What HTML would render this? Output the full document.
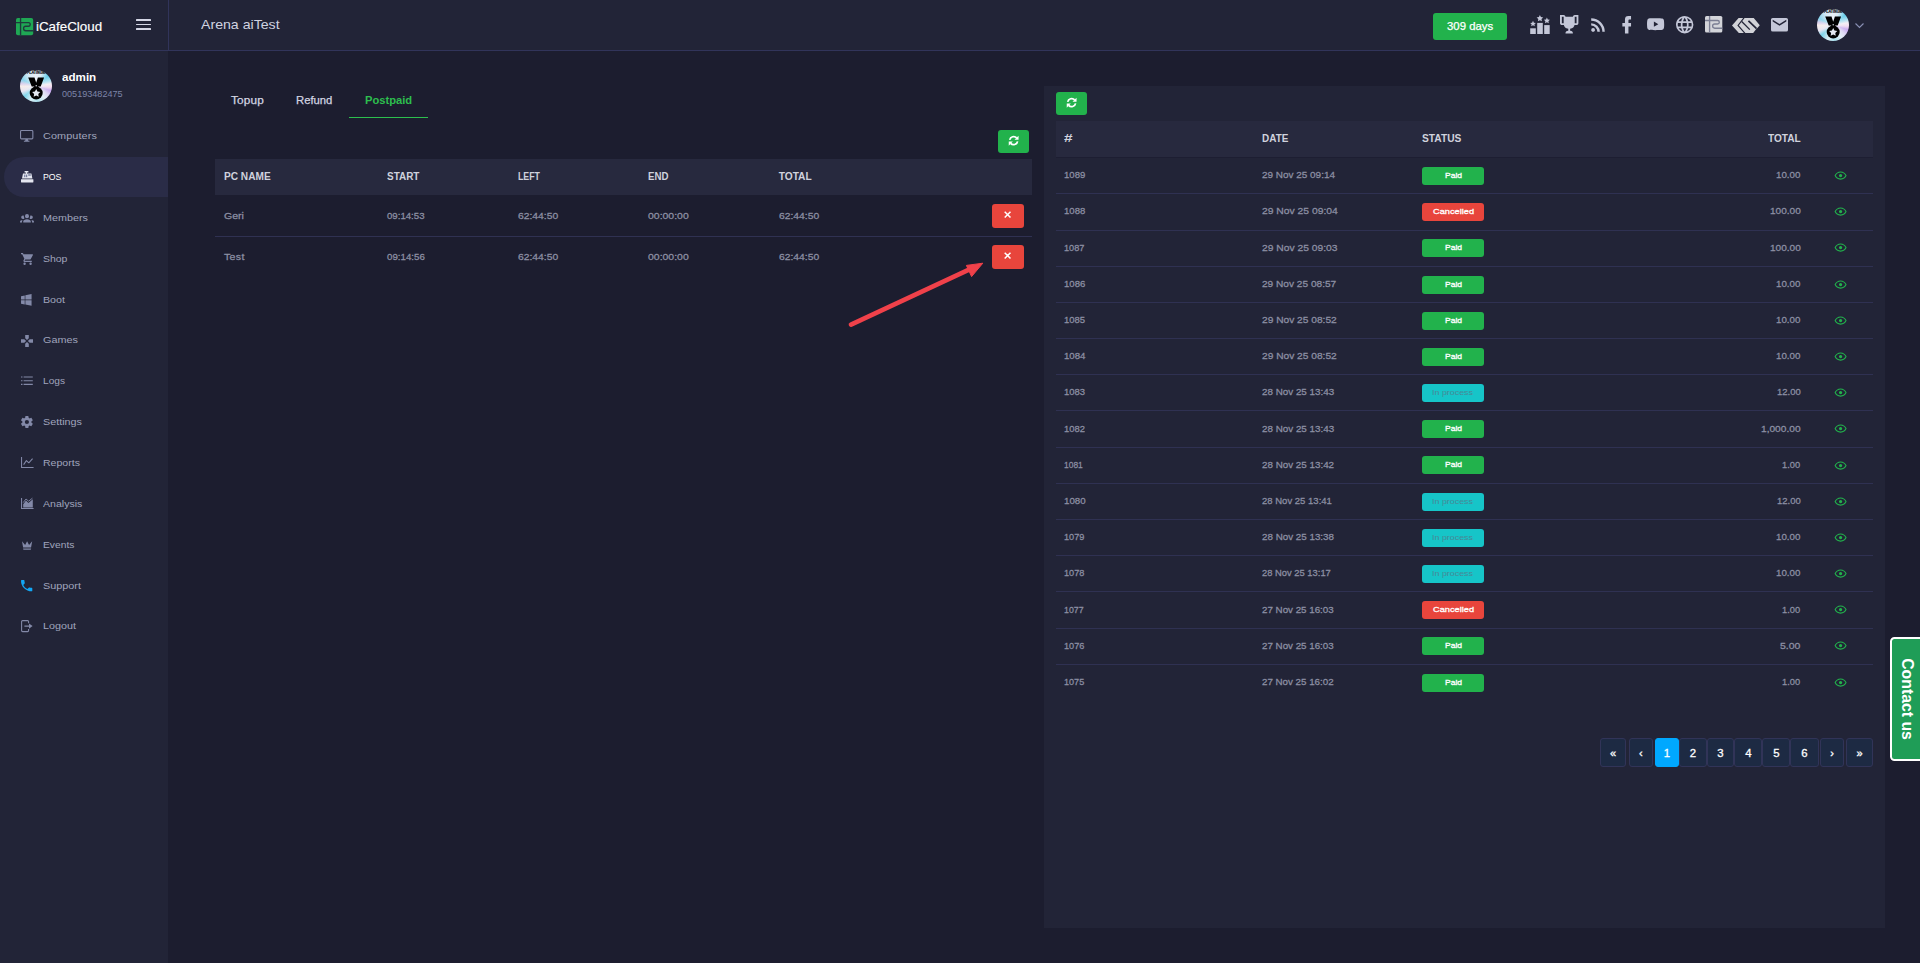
<!DOCTYPE html>
<html lang="en"><head><meta charset="utf-8"><title>iCafeCloud</title>
<style>
html,body{margin:0;padding:0;}
body{width:1920px;height:963px;overflow:hidden;background:#1c1d2f;font-family:"Liberation Sans",sans-serif;position:relative;}
.t{position:absolute;white-space:nowrap;display:block;}
.i{position:absolute;display:block;overflow:visible;}
.b{position:absolute;display:block;box-sizing:border-box;}
header,aside,nav,main,section{display:block;position:static;margin:0;padding:0;}

</style></head>
<body>
<div class="b" style="left:0px;top:0px;width:168px;height:963px;background:#222437;"></div>
<div class="b" style="left:0px;top:0px;width:1920px;height:50px;background:#222437;"></div>
<div class="b" style="left:0px;top:50px;width:1920px;height:1px;background:#31345a;"></div>
<div class="b" style="left:168px;top:0px;width:1px;height:50px;background:#31345a;"></div>
<div class="b" style="left:1044px;top:86px;width:840.8px;height:842px;background:#222437;"></div>
<div class="b" style="left:4px;top:157px;width:164px;height:40px;background:#2a2c47;border-radius:20px 0 0 20px;"></div>
<header>
<svg class="i" style="left:16.00px;top:17.80px;" preserveAspectRatio="none" width="17.2" height="17.2" viewBox="200 165 640 610"><rect x="200" y="165" width="640" height="610" rx="70" fill="#1fa754"/><path d="M370 165 V775 M200 330 H665 a65 65 0 0 1 0 130 H560 a78 78 0 0 0 0 156 H840" fill="none" stroke="#1f3a3c" stroke-width="50"/></svg>
<span class="t" style="top:16.90px;font-size:13.2px;line-height:20px;color:#ffffff;left:35.60px;transform:scaleX(1.0137);transform-origin:left center;-webkit-text-stroke:0.15px #fff;">iCafeCloud</span>
<div class="b" style="left:136.2px;top:19.4px;width:14.8px;height:1.75px;background:#d5d7e6;border-radius:0.5px;"></div>
<div class="b" style="left:136.2px;top:23.7px;width:14.8px;height:1.75px;background:#d5d7e6;border-radius:0.5px;"></div>
<div class="b" style="left:136.2px;top:27.9px;width:14.8px;height:1.75px;background:#d5d7e6;border-radius:0.5px;"></div>
<span class="t" style="top:14.75px;font-size:13px;line-height:20px;color:#d0d3e0;left:201.20px;transform:scaleX(1.0877);transform-origin:left center;">Arena aiTest</span>
<div class="b" style="left:1433px;top:13px;width:74px;height:27px;background:#22b24c;border-radius:3px;"></div>
<span class="t" style="top:17.90px;font-size:10.6px;line-height:16px;color:#ffffff;letter-spacing:0.022px;left:1446.90px;transform:scaleX(1.0700);transform-origin:left center;-webkit-text-stroke:0.25px #fff;">309 days</span>
<svg class="i" style="left:1530.00px;top:15.00px;fill:#c4c7d8;" width="20" height="19" viewBox="0 0 20 19"><rect x="0.2" y="13.3" width="5.6" height="5.7"/><rect x="7.2" y="7.9" width="5.6" height="11.1"/><rect x="14.2" y="10.1" width="5.5" height="8.9"/><path d="M3 5.8l.9 1.9 2 .2-1.5 1.4.4 2L3 10.3l-1.8 1 .4-2L.1 7.9l2-.2z"/><path d="M9.9 0l1 2.1 2.3.3-1.7 1.6.4 2.3-2-1.1-2 1.1.4-2.3L6.6 2.4l2.3-.3z"/><path d="M16.9 2.6l.9 1.9 2.1.3-1.5 1.4.4 2.1-1.9-1-1.9 1 .4-2.1-1.5-1.4 2.1-.3z"/></svg>
<svg class="i" style="left:1559.80px;top:15.40px;fill:#c4c7d8;" width="18.4" height="18.4" viewBox="2 2 20 20"><path d="M20.2,2H19.5H18C17.1,2 16,3 16,4H8C8,3 6.9,2 6,2H4.5H3.8H2V11C2,12 3,13 4,13H6.2C6.6,15 7.9,16.7 11,17V19.1C8.8,19.3 8,20.4 8,21.7V22H16V21.7C16,20.4 15.2,19.3 13,19.1V17C16.1,16.7 17.4,15 17.8,13H20C21,13 22,12 22,11V2H20.2M4,11V4H6V6V11C5.1,11 4.3,11 4,11M20,11C19.7,11 18.9,11 18,11V6V4H20V11Z"/></svg>
<svg class="i" style="left:1590.50px;top:18.00px;fill:#c4c7d8;" width="14.2" height="13.8" viewBox="4 4.2 15.8 15.8"><path d="M6.18,15.64A2.18,2.18 0 0,1 8.36,17.82C8.36,19 7.38,20 6.18,20C5,20 4,19 4,17.82A2.18,2.18 0 0,1 6.18,15.64M4,4.44A15.56,15.56 0 0,1 19.56,20H16.73A12.73,12.73 0 0,0 4,7.27V4.44M4,10.1A9.9,9.9 0 0,1 13.9,20H11.07A7.07,7.07 0 0,0 4,12.93V10.1Z"/></svg>
<svg class="i" style="left:1622.00px;top:15.70px;fill:#c4c7d8;" width="9.4" height="17.4" viewBox="7 2 10 20"><path d="M17,2V2H17V6H15C14.31,6 14,6.81 14,7.5V10H14L17,10V14H14V22H10V14H7V10H10V6A4,4 0 0,1 14,2H17Z"/></svg>
<svg class="i" style="left:1647.00px;top:18.20px;fill:#c4c7d8;" width="17.2" height="12.3" viewBox="2 5 20 14"><path d="M10,15L15.19,12L10,9V15M21.56,7.17C21.69,7.64 21.78,8.27 21.84,9.07C21.91,9.87 21.94,10.56 21.94,11.16L22,12C22,14.19 21.84,15.8 21.56,16.83C21.31,17.73 20.73,18.31 19.83,18.56C19.36,18.69 18.5,18.78 17.18,18.84C15.88,18.91 14.69,18.94 13.59,18.94L12,19C7.81,19 5.2,18.84 4.17,18.56C3.27,18.31 2.69,17.73 2.44,16.83C2.31,16.36 2.22,15.73 2.16,14.93C2.09,14.13 2.06,13.44 2.06,12.84L2,12C2,9.81 2.16,8.2 2.44,7.17C2.69,6.27 3.27,5.69 4.17,5.44C4.64,5.31 5.5,5.22 6.82,5.16C8.12,5.09 9.31,5.06 10.41,5.06L12,5C16.19,5 18.8,5.16 19.83,5.44C20.73,5.69 21.31,6.27 21.56,7.17Z"/></svg>
<svg class="i" style="left:1675.80px;top:15.80px;fill:#c4c7d8;" width="17.4" height="17.4" viewBox="2 2 20 20"><path d="M16.36,14C16.44,13.34 16.5,12.68 16.5,12C16.5,11.32 16.44,10.66 16.36,10H19.74C19.9,10.64 20,11.31 20,12C20,12.69 19.9,13.36 19.74,14M14.59,19.56C15.19,18.45 15.65,17.25 15.97,16H18.92C17.96,17.65 16.43,18.93 14.59,19.56M14.34,14H9.66C9.56,13.34 9.5,12.68 9.5,12C9.5,11.32 9.56,10.65 9.66,10H14.34C14.43,10.65 14.5,11.32 14.5,12C14.5,12.68 14.43,13.34 14.34,14M12,19.96C11.17,18.76 10.5,17.43 10.09,16H13.91C13.5,17.43 12.83,18.76 12,19.96M8,8H5.08C6.03,6.34 7.57,5.06 9.4,4.44C8.8,5.55 8.35,6.75 8,8M5.08,16H8C8.35,17.25 8.8,18.45 9.4,19.56C7.57,18.93 6.03,17.65 5.08,16M4.26,14C4.1,13.36 4,12.69 4,12C4,11.31 4.1,10.64 4.26,10H7.64C7.56,10.66 7.5,11.32 7.5,12C7.5,12.68 7.56,13.34 7.64,14M12,4.03C12.83,5.23 13.5,6.57 13.91,8H10.09C10.5,6.57 11.17,5.23 12,4.03M18.92,8H15.97C15.65,6.75 15.19,5.55 14.59,4.44C16.43,5.07 17.96,6.34 18.92,8M12,2C6.47,2 2,6.5 2,12A10,10 0 0,0 12,22A10,10 0 0,0 22,12A10,10 0 0,0 12,2Z"/></svg>
<svg class="i" style="left:1705.40px;top:16.45px;" preserveAspectRatio="none" width="17.3" height="16.5" viewBox="200 165 640 610"><rect x="200" y="165" width="640" height="610" rx="60" fill="#d3d4d9"/><path d="M370 165 V775 M200 330 H665 a65 65 0 0 1 0 130 H560 a78 78 0 0 0 0 156 H840" fill="none" stroke="#7b7e93" stroke-width="50"/></svg>
<svg class="i" style="left:1732.07px;top:17.80px;" preserveAspectRatio="none" width="27.8" height="15.1" viewBox="225 215 1030 560"><path d="M225 490 L470 215 H1030 L1255 480 L1150 600 L1110 640 L1010 775 H480 Z" fill="#d2d3d8"/><g fill="none" stroke="#222437"><path d="M690 180 L450 490 L730 810" stroke-width="42"/><path d="M585 345 L885 645" stroke-width="48"/><path d="M835 320 L1135 610" stroke-width="62"/></g></svg>
<svg class="i" style="left:1771.00px;top:17.50px;fill:#c4c7d8;" width="17" height="13.6" viewBox="2 4 20 16"><path d="M20,8L12,13L4,8V6L12,11L20,6M20,4H4C2.89,4 2,4.89 2,6V18A2,2 0 0,0 4,20H20A2,2 0 0,0 22,18V6C22,4.89 21.1,4 20,4Z"/></svg>
<div class="b" style="left:1817px;top:9px;width:32px;height:32px;border-radius:50%;background:conic-gradient(from 0deg,#e9f0f7 0deg,#d5e9f3 25deg,#5ecbe9 50deg,#a5def0 68deg,#f7eef3 82deg,#f1d9ef 95deg,#c5a3ef 108deg,#dcd3f3 125deg,#e3edf5 145deg,#a8e0ee 175deg,#d9eef5 200deg,#74d3ea 228deg,#e7e3f1 248deg,#f8ece9 268deg,#d9cdeb 280deg,#7fd1ea 295deg,#cfe7f3 325deg,#e9f0f7 360deg);overflow:hidden;"></div><svg class="i" style="left:1817.00px;top:9.00px;" width="32" height="32" viewBox="0 0 64 64"><defs><clipPath id="ca"><circle cx="32" cy="32" r="32"/></clipPath><radialGradient id="ga" cx="0.5" cy="0.5" r="0.5"><stop offset="0" stop-color="#eef2f8" stop-opacity="0.9"/><stop offset="0.55" stop-color="#eef2f8" stop-opacity="0.35"/><stop offset="1" stop-color="#eef2f8" stop-opacity="0"/></radialGradient></defs><g clip-path="url(#ca)"><circle cx="32" cy="32" r="32" fill="url(#ga)"/><path d="M16.4 15.2 H29 L32.4 25.5 L35.8 15.2 H48.2 L41.4 33 H23.4 Z" fill="#000"/><rect x="28.4" y="32" width="8" height="4" fill="#000"/><circle cx="32.4" cy="46" r="13" fill="#000"/><circle cx="32.4" cy="31.6" r="1.4" fill="#dfe6f0"/><path d="M32.4 37.8l2.5 5.2 5.7.8-4.1 4 1 5.7-5.1-2.7-5.1 2.7 1-5.7-4.1-4 5.7-.8z" fill="#e3e7f0"/><text x="32.2" y="8.6" font-family="Liberation Sans" font-weight="700" font-size="9.5" text-anchor="middle" fill="#101116" stroke="#101116" stroke-width="0.4" textLength="37" lengthAdjust="spacingAndGlyphs">PLATINUM</text></g></svg>
<svg class="i" style="left:1855.00px;top:22.60px;" width="9" height="5.2" viewBox="0 0 9 5.2"><path d="M0.5 0.5 L4.5 4.5 L8.5 0.5" fill="none" stroke="#8a90b4" stroke-width="1.1"/></svg>
</header>
<aside><nav>
<div class="b" style="left:20px;top:70px;width:32px;height:32px;border-radius:50%;background:conic-gradient(from 0deg,#e9f0f7 0deg,#d5e9f3 25deg,#5ecbe9 50deg,#a5def0 68deg,#f7eef3 82deg,#f1d9ef 95deg,#c5a3ef 108deg,#dcd3f3 125deg,#e3edf5 145deg,#a8e0ee 175deg,#d9eef5 200deg,#74d3ea 228deg,#e7e3f1 248deg,#f8ece9 268deg,#d9cdeb 280deg,#7fd1ea 295deg,#cfe7f3 325deg,#e9f0f7 360deg);overflow:hidden;"></div><svg class="i" style="left:20.00px;top:70.00px;" width="32" height="32" viewBox="0 0 64 64"><defs><clipPath id="cb"><circle cx="32" cy="32" r="32"/></clipPath><radialGradient id="gb" cx="0.5" cy="0.5" r="0.5"><stop offset="0" stop-color="#eef2f8" stop-opacity="0.9"/><stop offset="0.55" stop-color="#eef2f8" stop-opacity="0.35"/><stop offset="1" stop-color="#eef2f8" stop-opacity="0"/></radialGradient></defs><g clip-path="url(#cb)"><circle cx="32" cy="32" r="32" fill="url(#gb)"/><path d="M16.4 15.2 H29 L32.4 25.5 L35.8 15.2 H48.2 L41.4 33 H23.4 Z" fill="#000"/><rect x="28.4" y="32" width="8" height="4" fill="#000"/><circle cx="32.4" cy="46" r="13" fill="#000"/><circle cx="32.4" cy="31.6" r="1.4" fill="#dfe6f0"/><path d="M32.4 37.8l2.5 5.2 5.7.8-4.1 4 1 5.7-5.1-2.7-5.1 2.7 1-5.7-4.1-4 5.7-.8z" fill="#e3e7f0"/><text x="32.2" y="8.6" font-family="Liberation Sans" font-weight="700" font-size="9.5" text-anchor="middle" fill="#101116" stroke="#101116" stroke-width="0.4" textLength="37" lengthAdjust="spacingAndGlyphs">PLATINUM</text></g></svg>
<span class="t" style="top:68.90px;font-size:11.5px;line-height:17px;color:#ffffff;font-weight:700;left:61.80px;transform:scaleX(1.0099);transform-origin:left center;">admin</span>
<span class="t" style="top:86.80px;font-size:9.3px;line-height:14px;color:#7d84a8;left:61.90px;transform:scaleX(0.9763);transform-origin:left center;">005193482475</span>
<span class="t" style="top:127.90px;font-size:9.9px;line-height:15px;color:#a0a4bd;letter-spacing:0.084px;left:42.50px;transform:scaleX(1.1000);transform-origin:left center;">Computers</span>
<span class="t" style="top:168.90px;font-size:9.9px;line-height:15px;color:#ffffff;left:42.50px;transform:scaleX(0.8848);transform-origin:left center;">POS</span>
<span class="t" style="top:209.90px;font-size:9.9px;line-height:15px;color:#a0a4bd;left:42.50px;transform:scaleX(1.0907);transform-origin:left center;">Members</span>
<span class="t" style="top:250.90px;font-size:9.9px;line-height:15px;color:#a0a4bd;left:42.50px;transform:scaleX(1.0596);transform-origin:left center;">Shop</span>
<span class="t" style="top:291.90px;font-size:9.9px;line-height:15px;color:#a0a4bd;left:42.50px;transform:scaleX(1.0802);transform-origin:left center;">Boot</span>
<span class="t" style="top:332.20px;font-size:9.9px;line-height:15px;color:#a0a4bd;left:42.50px;transform:scaleX(1.0968);transform-origin:left center;">Games</span>
<span class="t" style="top:373.20px;font-size:9.9px;line-height:15px;color:#a0a4bd;left:42.50px;transform:scaleX(1.0248);transform-origin:left center;">Logs</span>
<span class="t" style="top:413.90px;font-size:9.9px;line-height:15px;color:#a0a4bd;left:42.50px;transform:scaleX(1.0902);transform-origin:left center;">Settings</span>
<span class="t" style="top:454.90px;font-size:9.9px;line-height:15px;color:#a0a4bd;left:42.50px;transform:scaleX(1.0673);transform-origin:left center;">Reports</span>
<span class="t" style="top:495.90px;font-size:9.9px;line-height:15px;color:#a0a4bd;left:42.50px;transform:scaleX(1.0715);transform-origin:left center;">Analysis</span>
<span class="t" style="top:536.90px;font-size:9.9px;line-height:15px;color:#a0a4bd;left:42.50px;transform:scaleX(1.0408);transform-origin:left center;">Events</span>
<span class="t" style="top:577.90px;font-size:9.9px;line-height:15px;color:#a0a4bd;left:42.50px;transform:scaleX(1.0959);transform-origin:left center;">Support</span>
<span class="t" style="top:618.20px;font-size:9.9px;line-height:15px;color:#a0a4bd;left:42.50px;transform:scaleX(1.0898);transform-origin:left center;">Logout</span>
<svg class="i" style="left:20.30px;top:130.00px;" width="13.4" height="11.8" viewBox="0 0 13.4 11.8"><rect x="0.55" y="0.55" width="12.3" height="8.3" rx="0.9" fill="none" stroke="#8389a8" stroke-width="1.1"/><path d="M5.6 8.9 L5.1 10.7 H3.9 V11.8 H9.5 V10.7 H8.3 L7.8 8.9 Z" fill="#8389a8"/></svg>
<svg class="i" style="left:20.90px;top:170.90px;" width="12.4" height="11.4" viewBox="0 0 12.4 11.4"><path d="M3.6 0 H7.4 V1.5 H6 V2.6 H10.4 L11.4 7.6 H1 L2 2.6 H4.9 V1.5 H3.6 Z" fill="#e4e6f0"/><rect x="0" y="8.2" width="12.4" height="3.2" rx="0.4" fill="#e4e6f0"/><rect x="3.3" y="3.6" width="1" height="2.6" fill="#5c6488"/><rect x="5.2" y="3.6" width="1" height="2.6" fill="#5c6488"/><rect x="7.2" y="3.4" width="2.6" height="1.2" fill="#5c6488"/></svg>
<svg class="i" style="left:20.00px;top:214.00px;fill:#8389a8;" width="14" height="8.7" viewBox="0 5.5 24 14.5"><path d="M12,5.5A3.5,3.5 0 0,1 15.5,9A3.5,3.5 0 0,1 12,12.5A3.5,3.5 0 0,1 8.5,9A3.5,3.5 0 0,1 12,5.5M5,8C5.56,8 6.08,8.15 6.53,8.42C6.38,9.85 6.8,11.27 7.66,12.38C7.16,13.34 6.16,14 5,14A3,3 0 0,1 2,11A3,3 0 0,1 5,8M19,8A3,3 0 0,1 22,11A3,3 0 0,1 19,14C17.84,14 16.84,13.34 16.34,12.38C17.2,11.27 17.62,9.85 17.47,8.42C17.92,8.15 18.44,8 19,8M5.5,18.25C5.5,16.18 8.41,14.5 12,14.5C15.59,14.5 18.5,16.18 18.5,18.25V20H5.5V18.25M0,20V18.5C0,17.11 1.89,15.94 4.45,15.6C3.86,16.28 3.5,17.22 3.5,18.25V20H0M24,20H20.5V18.25C20.5,17.22 20.14,16.28 19.55,15.6C22.11,15.94 24,17.11 24,18.5V20Z"/></svg>
<svg class="i" style="left:20.50px;top:253.00px;fill:#8389a8;" width="12" height="12" viewBox="1 2 20 20"><path d="M17,18C15.89,18 15,18.89 15,20A2,2 0 0,0 17,22A2,2 0 0,0 19,20C19,18.89 18.1,18 17,18M1,2V4H3L6.6,11.59L5.24,14.04C5.09,14.32 5,14.65 5,15A2,2 0 0,0 7,17H19V15H7.42A0.25,0.25 0 0,1 7.17,14.75C7.17,14.7 7.18,14.66 7.2,14.63L8.1,13H15.55C16.3,13 16.96,12.58 17.3,11.97L20.88,5.5C20.95,5.34 21,5.17 21,5A1,1 0 0,0 20,4H5.21L4.27,2M7,18C5.89,18 5,18.89 5,20A2,2 0 0,0 7,22A2,2 0 0,0 9,20C9,18.89 8.1,18 7,18Z"/></svg>
<svg class="i" style="left:21.30px;top:294.20px;fill:#8389a8;" width="10.6" height="11.8" viewBox="3 3 17 19"><path d="M3,12V6.75L9,5.43V11.91L3,12M20,3V11.75L10,11.9V5.21L20,3M3,13L9,13.09V19.9L3,18.75V13M20,13.25V22L10,20.09V13.1L20,13.25Z"/></svg>
<svg class="i" style="left:21.00px;top:334.80px;fill:#8389a8;" width="12" height="12" viewBox="2 2 20 20"><path d="M16.5,9L13.5,12L16.5,15H22V9M9,16.5V22H15V16.5L12,13.5M7.5,9H2V15H7.5L10.5,12M15,7.5V2H9V7.5L12,10.5L15,7.5Z"/></svg>
<svg class="i" style="left:21.10px;top:376.00px;" width="11.8" height="9.4" viewBox="0 0 11.8 9.4"><g stroke="#8389a8" stroke-width="1.15" fill="none"><path d="M2.6 1 H11.8 M2.6 4.75 H11.8 M2.6 8.4 H11.8"/><path d="M0 1 H1.5 M0 4.75 H1.5 M0 8.4 H1.5"/></g></svg>
<svg class="i" style="left:21.10px;top:415.90px;fill:#8389a8;" width="11.8" height="12.0" viewBox="2.2 2 19.6 20"><path d="M12,15.5A3.5,3.5 0 0,1 8.5,12A3.5,3.5 0 0,1 12,8.5A3.5,3.5 0 0,1 15.5,12A3.5,3.5 0 0,1 12,15.5M19.43,12.97C19.47,12.65 19.5,12.33 19.5,12C19.5,11.67 19.47,11.34 19.43,11L21.54,9.37C21.73,9.22 21.78,8.95 21.66,8.73L19.66,5.27C19.54,5.05 19.27,4.96 19.05,5.05L16.56,6.05C16.04,5.66 15.5,5.32 14.87,5.07L14.5,2.42C14.46,2.18 14.25,2 14,2H10C9.75,2 9.54,2.18 9.5,2.42L9.13,5.07C8.5,5.32 7.96,5.66 7.44,6.05L4.95,5.05C4.73,4.96 4.46,5.05 4.34,5.27L2.34,8.73C2.21,8.95 2.27,9.22 2.46,9.37L4.57,11C4.53,11.34 4.5,11.67 4.5,12C4.5,12.33 4.53,12.65 4.57,12.97L2.46,14.63C2.27,14.78 2.21,15.05 2.34,15.27L4.34,18.73C4.46,18.95 4.73,19.03 4.95,18.95L7.44,17.94C7.96,18.34 8.5,18.68 9.13,18.93L9.5,21.58C9.54,21.82 9.75,22 10,22H14C14.25,22 14.46,21.82 14.5,21.58L14.87,18.93C15.5,18.67 16.04,18.34 16.56,17.94L19.05,18.95C19.27,19.03 19.54,18.95 19.66,18.73L21.66,15.27C21.78,15.05 21.73,14.78 21.54,14.63L19.43,12.97Z"/></svg>
<svg class="i" style="left:20.80px;top:457.00px;" width="12.6" height="11.2" viewBox="0 0 12.6 11.2"><g stroke="#8389a8" stroke-width="1.05" fill="none"><path d="M0.55 0 V10.6 H12.6"/><path d="M2.6 7.6 L5.4 3.6 L7.8 5.8 L11.6 1.6" stroke-linejoin="round"/></g></svg>
<svg class="i" style="left:20.80px;top:498.00px;" width="12.6" height="11.2" viewBox="0 0 12.6 11.2"><path d="M0.55 0 V10.6 H12.6" stroke="#8389a8" stroke-width="1.05" fill="none"/><path d="M2.2 9.4 V6.2 L5 2.6 L7.4 5 L11.8 1.2 V9.4 Z" fill="#8389a8"/><path d="M2.2 4.6 L5 1 L7.6 3.2 L11.4 0.2" stroke="#8389a8" stroke-width="0.9" fill="none"/></svg>
<svg class="i" style="left:22.00px;top:540.90px;fill:#8389a8;" width="10.2" height="8.8" viewBox="3 5 18 15"><path d="M5,16L3,5L8.5,12L12,5L15.5,12L21,5L19,16H5M19,19A1,1 0 0,1 18,20H6A1,1 0 0,1 5,19V18H19V19Z"/></svg>
<svg class="i" style="left:21.00px;top:580.00px;fill:#12a7f5;" width="11.3" height="11.3" viewBox="3 3 18 18"><path d="M6.62,10.79C8.06,13.62 10.38,15.94 13.21,17.38L15.41,15.18C15.69,14.9 16.08,14.82 16.43,14.93C17.55,15.3 18.75,15.5 20,15.5A1,1 0 0,1 21,16.5V20A1,1 0 0,1 20,21A17,17 0 0,1 3,4A1,1 0 0,1 4,3H7.5A1,1 0 0,1 8.5,4C8.5,5.25 8.7,6.45 9.07,7.57C9.18,7.92 9.1,8.31 8.82,8.59L6.62,10.79Z"/></svg>
<svg class="i" style="left:21.00px;top:619.80px;" width="11.6" height="12.2" viewBox="0 0 11.6 12.2"><path d="M7.6 3.2 V1.6 a1 1 0 0 0 -1 -1 H1.6 a1 1 0 0 0 -1 1 V10.6 a1 1 0 0 0 1 1 H6.6 a1 1 0 0 0 1 -1 V9" stroke="#8389a8" stroke-width="1.1" fill="none"/><path d="M3.4 5.4 H8 V3.4 L11.6 6.1 L8 8.8 V6.8 H3.4 Z" fill="#8389a8"/></svg>
</nav></aside>
<main>
<section>
<span class="t" style="top:92.00px;font-size:11px;line-height:16px;color:#d2d4e1;letter-spacing:0.171px;left:231.00px;transform:scaleX(1.0700);transform-origin:left center;-webkit-text-stroke:0.25px #d2d4e1;">Topup</span>
<span class="t" style="top:92.00px;font-size:11px;line-height:16px;color:#d2d4e1;left:295.90px;transform:scaleX(1.0234);transform-origin:left center;-webkit-text-stroke:0.25px #d2d4e1;">Refund</span>
<span class="t" style="top:92.00px;font-size:11px;line-height:16px;color:#2dbe4e;font-weight:700;left:365.00px;transform:scaleX(1.0161);transform-origin:left center;">Postpaid</span>
<div class="b" style="left:349px;top:116.5px;width:79px;height:1.6px;background:#2dbe4e;"></div>
<div class="b" style="left:998px;top:130px;width:31px;height:23px;background:#22b24c;border-radius:3px;"></div>
<svg class="i" style="left:1007.95px;top:135.45px;" width="11.3" height="11.3" viewBox="0 0 24 24"><g fill="none" stroke="#fff" stroke-width="3.6"><path d="M3.6 10.4 A8.6 8.6 0 0 1 18.4 6.2"/><path d="M20.4 13.6 A8.6 8.6 0 0 1 5.6 17.8"/></g><path d="M22.4 1.4 V10 H13.8 Z" fill="#fff"/><path d="M1.6 22.6 V14 H10.2 Z" fill="#fff"/></svg>
<div class="b" style="left:215px;top:159px;width:817px;height:36px;background:#27293e;"></div>
<span class="t" style="top:169.10px;font-size:10.2px;line-height:15px;color:#d0d2dd;font-weight:700;left:223.60px;transform:scaleX(0.9928);transform-origin:left center;">PC NAME</span>
<span class="t" style="top:169.10px;font-size:10.2px;line-height:15px;color:#d0d2dd;font-weight:700;left:386.70px;transform:scaleX(0.9777);transform-origin:left center;">START</span>
<span class="t" style="top:169.10px;font-size:10.2px;line-height:15px;color:#d0d2dd;font-weight:700;left:517.70px;transform:scaleX(0.8629);transform-origin:left center;">LEFT</span>
<span class="t" style="top:169.10px;font-size:10.2px;line-height:15px;color:#d0d2dd;font-weight:700;left:648.20px;transform:scaleX(0.9519);transform-origin:left center;">END</span>
<span class="t" style="top:169.10px;font-size:10.2px;line-height:15px;color:#d0d2dd;font-weight:700;left:778.70px;">TOTAL</span>
<div class="b" style="left:215px;top:236px;width:817px;height:1px;background:#2f3152;"></div>
<span class="t" style="top:207.85px;font-size:9.9px;line-height:15px;color:#8c8fa3;left:223.50px;transform:scaleX(1.0693);transform-origin:left center;-webkit-text-stroke:0.28px #8c8fa3;">Geri</span>
<span class="t" style="top:207.85px;font-size:9.9px;line-height:15px;color:#8c8fa3;left:386.70px;transform:scaleX(0.9757);transform-origin:left center;-webkit-text-stroke:0.28px #8c8fa3;">09:14:53</span>
<span class="t" style="top:207.85px;font-size:9.9px;line-height:15px;color:#8c8fa3;left:517.70px;transform:scaleX(1.0457);transform-origin:left center;-webkit-text-stroke:0.28px #8c8fa3;">62:44:50</span>
<span class="t" style="top:207.85px;font-size:9.9px;line-height:15px;color:#8c8fa3;left:648.20px;transform:scaleX(1.0587);transform-origin:left center;-webkit-text-stroke:0.28px #8c8fa3;">00:00:00</span>
<span class="t" style="top:207.85px;font-size:9.9px;line-height:15px;color:#8c8fa3;left:778.70px;transform:scaleX(1.0457);transform-origin:left center;-webkit-text-stroke:0.28px #8c8fa3;">62:44:50</span>
<span class="t" style="top:249.00px;font-size:9.9px;line-height:15px;color:#8c8fa3;letter-spacing:0.303px;left:223.50px;transform:scaleX(1.0700);transform-origin:left center;-webkit-text-stroke:0.28px #8c8fa3;">Test</span>
<span class="t" style="top:249.00px;font-size:9.9px;line-height:15px;color:#8c8fa3;left:386.70px;transform:scaleX(0.9835);transform-origin:left center;-webkit-text-stroke:0.28px #8c8fa3;">09:14:56</span>
<span class="t" style="top:249.00px;font-size:9.9px;line-height:15px;color:#8c8fa3;left:517.70px;transform:scaleX(1.0457);transform-origin:left center;-webkit-text-stroke:0.28px #8c8fa3;">62:44:50</span>
<span class="t" style="top:249.00px;font-size:9.9px;line-height:15px;color:#8c8fa3;left:648.20px;transform:scaleX(1.0587);transform-origin:left center;-webkit-text-stroke:0.28px #8c8fa3;">00:00:00</span>
<span class="t" style="top:249.00px;font-size:9.9px;line-height:15px;color:#8c8fa3;left:778.70px;transform:scaleX(1.0457);transform-origin:left center;-webkit-text-stroke:0.28px #8c8fa3;">62:44:50</span>
<div class="b" style="left:992px;top:204px;width:32px;height:24px;background:#e8453c;border-radius:3px;"></div><svg class="i" style="left:1004.40px;top:211.20px;" width="7.2" height="7.2" viewBox="0 0 7.2 7.2"><path d="M0.7 0.7 L6.5 6.5 M6.5 0.7 L0.7 6.5" stroke="#fff" stroke-width="1.5" fill="none"/></svg>
<div class="b" style="left:992px;top:245px;width:32px;height:24px;background:#e8453c;border-radius:3px;"></div><svg class="i" style="left:1004.40px;top:252.20px;" width="7.2" height="7.2" viewBox="0 0 7.2 7.2"><path d="M0.7 0.7 L6.5 6.5 M6.5 0.7 L0.7 6.5" stroke="#fff" stroke-width="1.5" fill="none"/></svg>
<svg class="i" style="left:840.00px;top:255.00px;" width="150" height="80" viewBox="840 255 150 80"><path d="M851 324.6 L969 269.6" stroke="#f0414a" stroke-width="4.7" stroke-linecap="round" fill="none"/><path d="M982.8 263.2 L971.6 276.6 L966.4 265.4 Z" fill="#f0414a" stroke="#f0414a" stroke-width="1" stroke-linejoin="miter"/></svg>
</section>
<section>
<div class="b" style="left:1056px;top:92px;width:31px;height:23px;background:#22b24c;border-radius:3px;"></div>
<svg class="i" style="left:1065.95px;top:97.45px;" width="11.3" height="11.3" viewBox="0 0 24 24"><g fill="none" stroke="#fff" stroke-width="3.6"><path d="M3.6 10.4 A8.6 8.6 0 0 1 18.4 6.2"/><path d="M20.4 13.6 A8.6 8.6 0 0 1 5.6 17.8"/></g><path d="M22.4 1.4 V10 H13.8 Z" fill="#fff"/><path d="M1.6 22.6 V14 H10.2 Z" fill="#fff"/></svg>
<div class="b" style="left:1056px;top:121px;width:817px;height:36px;background:#27293e;"></div>
<span class="t" style="top:131.10px;font-size:10.2px;line-height:15px;color:#d0d2dd;font-weight:700;left:1064.20px;transform:scaleX(1.5160);transform-origin:left center;">#</span>
<div class="b" style="left:1056px;top:157px;width:817px;height:1px;background:#1d1e32;"></div>
<span class="t" style="top:131.10px;font-size:10.2px;line-height:15px;color:#d0d2dd;font-weight:700;left:1261.80px;transform:scaleX(0.9774);transform-origin:left center;">DATE</span>
<span class="t" style="top:131.10px;font-size:10.2px;line-height:15px;color:#d0d2dd;font-weight:700;left:1421.80px;transform:scaleX(1.0029);transform-origin:left center;">STATUS</span>
<span class="t" style="top:131.10px;font-size:10.2px;line-height:15px;color:#d0d2dd;font-weight:700;left:1768.20px;transform:scaleX(0.9924);transform-origin:left center;">TOTAL</span>
<div class="b" style="left:1056px;top:193px;width:817px;height:1px;background:#2f3152;"></div>
<div class="b" style="left:1056px;top:230px;width:817px;height:1px;background:#2f3152;"></div>
<div class="b" style="left:1056px;top:266px;width:817px;height:1px;background:#2f3152;"></div>
<div class="b" style="left:1056px;top:302px;width:817px;height:1px;background:#2f3152;"></div>
<div class="b" style="left:1056px;top:338px;width:817px;height:1px;background:#2f3152;"></div>
<div class="b" style="left:1056px;top:374px;width:817px;height:1px;background:#2f3152;"></div>
<div class="b" style="left:1056px;top:410px;width:817px;height:1px;background:#2f3152;"></div>
<div class="b" style="left:1056px;top:447px;width:817px;height:1px;background:#2f3152;"></div>
<div class="b" style="left:1056px;top:483px;width:817px;height:1px;background:#2f3152;"></div>
<div class="b" style="left:1056px;top:519px;width:817px;height:1px;background:#2f3152;"></div>
<div class="b" style="left:1056px;top:555px;width:817px;height:1px;background:#2f3152;"></div>
<div class="b" style="left:1056px;top:591px;width:817px;height:1px;background:#2f3152;"></div>
<div class="b" style="left:1056px;top:628px;width:817px;height:1px;background:#2f3152;"></div>
<div class="b" style="left:1056px;top:664px;width:817px;height:1px;background:#2f3152;"></div>
<span class="t" style="top:167.22px;font-size:9.9px;line-height:15px;color:#8c8fa3;left:1064.00px;transform:scaleX(0.9675);transform-origin:left center;-webkit-text-stroke:0.28px #8c8fa3;">1089</span>
<span class="t" style="top:167.22px;font-size:9.9px;line-height:15px;color:#8c8fa3;left:1261.80px;transform:scaleX(1.0065);transform-origin:left center;-webkit-text-stroke:0.28px #8c8fa3;">29 Nov 25 09:14</span>
<span class="t" style="top:167.22px;font-size:9.9px;line-height:15px;color:#8c8fa3;left:1776.01px;transform:scaleX(0.9886);transform-origin:left center;-webkit-text-stroke:0.28px #8c8fa3;">10.00</span>
<div class="b" style="left:1422px;top:167px;width:62px;height:18px;background:#22b24c;border-radius:3px;"></div>
<span class="t" style="top:169.60px;font-size:8.0px;line-height:12px;color:#ffffff;left:1444.50px;transform:scaleX(1.0617);transform-origin:left center;-webkit-text-stroke:0.3px #fff;">Paid</span>
<svg class="i" style="left:1834.30px;top:168.70px;fill:#22b24c;" width="13.2" height="13.2" viewBox="0 0 24 24"><path d="M12,9A3,3 0 0,1 15,12A3,3 0 0,1 12,15A3,3 0 0,1 9,12A3,3 0 0,1 12,9M12,4.5C17,4.5 21.27,7.61 23,12C21.27,16.39 17,19.5 12,19.5C7,19.5 2.73,16.39 1,12C2.73,7.61 7,4.5 12,4.5M3.18,12C4.83,15.36 8.24,17.5 12,17.5C15.76,17.5 19.17,15.36 20.82,12C19.17,8.64 15.76,6.5 12,6.5C8.24,6.5 4.83,8.64 3.18,12Z"/></svg>
<span class="t" style="top:203.41px;font-size:9.9px;line-height:15px;color:#8c8fa3;left:1064.00px;transform:scaleX(0.9675);transform-origin:left center;-webkit-text-stroke:0.28px #8c8fa3;">1088</span>
<span class="t" style="top:203.41px;font-size:9.9px;line-height:15px;color:#8c8fa3;left:1261.80px;transform:scaleX(1.0464);transform-origin:left center;-webkit-text-stroke:0.28px #8c8fa3;">29 Nov 25 09:04</span>
<span class="t" style="top:203.41px;font-size:9.9px;line-height:15px;color:#8c8fa3;left:1769.64px;transform:scaleX(1.0192);transform-origin:left center;-webkit-text-stroke:0.28px #8c8fa3;">100.00</span>
<div class="b" style="left:1422px;top:203px;width:62px;height:18px;background:#e8453c;border-radius:3px;"></div>
<span class="t" style="top:205.60px;font-size:8.0px;line-height:12px;color:#ffffff;letter-spacing:0.009px;left:1432.50px;transform:scaleX(1.1500);transform-origin:left center;-webkit-text-stroke:0.3px #fff;">Cancelled</span>
<svg class="i" style="left:1834.30px;top:204.70px;fill:#22b24c;" width="13.2" height="13.2" viewBox="0 0 24 24"><path d="M12,9A3,3 0 0,1 15,12A3,3 0 0,1 12,15A3,3 0 0,1 9,12A3,3 0 0,1 12,9M12,4.5C17,4.5 21.27,7.61 23,12C21.27,16.39 17,19.5 12,19.5C7,19.5 2.73,16.39 1,12C2.73,7.61 7,4.5 12,4.5M3.18,12C4.83,15.36 8.24,17.5 12,17.5C15.76,17.5 19.17,15.36 20.82,12C19.17,8.64 15.76,6.5 12,6.5C8.24,6.5 4.83,8.64 3.18,12Z"/></svg>
<span class="t" style="top:239.60px;font-size:9.9px;line-height:15px;color:#8c8fa3;left:1064.00px;transform:scaleX(0.9281);transform-origin:left center;-webkit-text-stroke:0.28px #8c8fa3;">1087</span>
<span class="t" style="top:239.60px;font-size:9.9px;line-height:15px;color:#8c8fa3;left:1261.80px;transform:scaleX(1.0411);transform-origin:left center;-webkit-text-stroke:0.28px #8c8fa3;">29 Nov 25 09:03</span>
<span class="t" style="top:239.60px;font-size:9.9px;line-height:15px;color:#8c8fa3;left:1769.64px;transform:scaleX(1.0192);transform-origin:left center;-webkit-text-stroke:0.28px #8c8fa3;">100.00</span>
<div class="b" style="left:1422px;top:239px;width:62px;height:18px;background:#22b24c;border-radius:3px;"></div>
<span class="t" style="top:241.60px;font-size:8.0px;line-height:12px;color:#ffffff;left:1444.50px;transform:scaleX(1.0617);transform-origin:left center;-webkit-text-stroke:0.3px #fff;">Paid</span>
<svg class="i" style="left:1834.30px;top:240.70px;fill:#22b24c;" width="13.2" height="13.2" viewBox="0 0 24 24"><path d="M12,9A3,3 0 0,1 15,12A3,3 0 0,1 12,15A3,3 0 0,1 9,12A3,3 0 0,1 12,9M12,4.5C17,4.5 21.27,7.61 23,12C21.27,16.39 17,19.5 12,19.5C7,19.5 2.73,16.39 1,12C2.73,7.61 7,4.5 12,4.5M3.18,12C4.83,15.36 8.24,17.5 12,17.5C15.76,17.5 19.17,15.36 20.82,12C19.17,8.64 15.76,6.5 12,6.5C8.24,6.5 4.83,8.64 3.18,12Z"/></svg>
<span class="t" style="top:275.79px;font-size:9.9px;line-height:15px;color:#8c8fa3;left:1064.00px;transform:scaleX(0.9675);transform-origin:left center;-webkit-text-stroke:0.28px #8c8fa3;">1086</span>
<span class="t" style="top:275.79px;font-size:9.9px;line-height:15px;color:#8c8fa3;left:1261.80px;transform:scaleX(1.0238);transform-origin:left center;-webkit-text-stroke:0.28px #8c8fa3;">29 Nov 25 08:57</span>
<span class="t" style="top:275.79px;font-size:9.9px;line-height:15px;color:#8c8fa3;left:1776.01px;transform:scaleX(0.9886);transform-origin:left center;-webkit-text-stroke:0.28px #8c8fa3;">10.00</span>
<div class="b" style="left:1422px;top:276px;width:62px;height:18px;background:#22b24c;border-radius:3px;"></div>
<span class="t" style="top:278.60px;font-size:8.0px;line-height:12px;color:#ffffff;left:1444.50px;transform:scaleX(1.0617);transform-origin:left center;-webkit-text-stroke:0.3px #fff;">Paid</span>
<svg class="i" style="left:1834.30px;top:277.70px;fill:#22b24c;" width="13.2" height="13.2" viewBox="0 0 24 24"><path d="M12,9A3,3 0 0,1 15,12A3,3 0 0,1 12,15A3,3 0 0,1 9,12A3,3 0 0,1 12,9M12,4.5C17,4.5 21.27,7.61 23,12C21.27,16.39 17,19.5 12,19.5C7,19.5 2.73,16.39 1,12C2.73,7.61 7,4.5 12,4.5M3.18,12C4.83,15.36 8.24,17.5 12,17.5C15.76,17.5 19.17,15.36 20.82,12C19.17,8.64 15.76,6.5 12,6.5C8.24,6.5 4.83,8.64 3.18,12Z"/></svg>
<span class="t" style="top:311.98px;font-size:9.9px;line-height:15px;color:#8c8fa3;left:1064.00px;transform:scaleX(0.9588);transform-origin:left center;-webkit-text-stroke:0.28px #8c8fa3;">1085</span>
<span class="t" style="top:311.98px;font-size:9.9px;line-height:15px;color:#8c8fa3;left:1261.80px;transform:scaleX(1.0318);transform-origin:left center;-webkit-text-stroke:0.28px #8c8fa3;">29 Nov 25 08:52</span>
<span class="t" style="top:311.98px;font-size:9.9px;line-height:15px;color:#8c8fa3;left:1776.01px;transform:scaleX(0.9886);transform-origin:left center;-webkit-text-stroke:0.28px #8c8fa3;">10.00</span>
<div class="b" style="left:1422px;top:312px;width:62px;height:18px;background:#22b24c;border-radius:3px;"></div>
<span class="t" style="top:314.60px;font-size:8.0px;line-height:12px;color:#ffffff;left:1444.50px;transform:scaleX(1.0617);transform-origin:left center;-webkit-text-stroke:0.3px #fff;">Paid</span>
<svg class="i" style="left:1834.30px;top:313.70px;fill:#22b24c;" width="13.2" height="13.2" viewBox="0 0 24 24"><path d="M12,9A3,3 0 0,1 15,12A3,3 0 0,1 12,15A3,3 0 0,1 9,12A3,3 0 0,1 12,9M12,4.5C17,4.5 21.27,7.61 23,12C21.27,16.39 17,19.5 12,19.5C7,19.5 2.73,16.39 1,12C2.73,7.61 7,4.5 12,4.5M3.18,12C4.83,15.36 8.24,17.5 12,17.5C15.76,17.5 19.17,15.36 20.82,12C19.17,8.64 15.76,6.5 12,6.5C8.24,6.5 4.83,8.64 3.18,12Z"/></svg>
<span class="t" style="top:348.17px;font-size:9.9px;line-height:15px;color:#8c8fa3;left:1064.00px;transform:scaleX(0.9763);transform-origin:left center;-webkit-text-stroke:0.28px #8c8fa3;">1084</span>
<span class="t" style="top:348.17px;font-size:9.9px;line-height:15px;color:#8c8fa3;left:1261.80px;transform:scaleX(1.0318);transform-origin:left center;-webkit-text-stroke:0.28px #8c8fa3;">29 Nov 25 08:52</span>
<span class="t" style="top:348.17px;font-size:9.9px;line-height:15px;color:#8c8fa3;left:1776.01px;transform:scaleX(0.9886);transform-origin:left center;-webkit-text-stroke:0.28px #8c8fa3;">10.00</span>
<div class="b" style="left:1422px;top:348px;width:62px;height:18px;background:#22b24c;border-radius:3px;"></div>
<span class="t" style="top:350.60px;font-size:8.0px;line-height:12px;color:#ffffff;left:1444.50px;transform:scaleX(1.0617);transform-origin:left center;-webkit-text-stroke:0.3px #fff;">Paid</span>
<svg class="i" style="left:1834.30px;top:349.70px;fill:#22b24c;" width="13.2" height="13.2" viewBox="0 0 24 24"><path d="M12,9A3,3 0 0,1 15,12A3,3 0 0,1 12,15A3,3 0 0,1 9,12A3,3 0 0,1 12,9M12,4.5C17,4.5 21.27,7.61 23,12C21.27,16.39 17,19.5 12,19.5C7,19.5 2.73,16.39 1,12C2.73,7.61 7,4.5 12,4.5M3.18,12C4.83,15.36 8.24,17.5 12,17.5C15.76,17.5 19.17,15.36 20.82,12C19.17,8.64 15.76,6.5 12,6.5C8.24,6.5 4.83,8.64 3.18,12Z"/></svg>
<span class="t" style="top:384.36px;font-size:9.9px;line-height:15px;color:#8c8fa3;left:1064.00px;transform:scaleX(0.9588);transform-origin:left center;-webkit-text-stroke:0.28px #8c8fa3;">1083</span>
<span class="t" style="top:384.36px;font-size:9.9px;line-height:15px;color:#8c8fa3;left:1261.80px;transform:scaleX(0.9959);transform-origin:left center;-webkit-text-stroke:0.28px #8c8fa3;">28 Nov 25 13:43</span>
<span class="t" style="top:384.36px;font-size:9.9px;line-height:15px;color:#8c8fa3;left:1776.68px;transform:scaleX(0.9614);transform-origin:left center;-webkit-text-stroke:0.28px #8c8fa3;">12.00</span>
<div class="b" style="left:1422px;top:384px;width:62px;height:18px;background:#16c5c8;border-radius:3px;"></div>
<span class="t" style="top:386.60px;font-size:8.0px;line-height:12px;color:#488896;left:1432.00px;transform:scaleX(1.1109);transform-origin:left center;">In process</span>
<svg class="i" style="left:1834.30px;top:385.70px;fill:#22b24c;" width="13.2" height="13.2" viewBox="0 0 24 24"><path d="M12,9A3,3 0 0,1 15,12A3,3 0 0,1 12,15A3,3 0 0,1 9,12A3,3 0 0,1 12,9M12,4.5C17,4.5 21.27,7.61 23,12C21.27,16.39 17,19.5 12,19.5C7,19.5 2.73,16.39 1,12C2.73,7.61 7,4.5 12,4.5M3.18,12C4.83,15.36 8.24,17.5 12,17.5C15.76,17.5 19.17,15.36 20.82,12C19.17,8.64 15.76,6.5 12,6.5C8.24,6.5 4.83,8.64 3.18,12Z"/></svg>
<span class="t" style="top:420.55px;font-size:9.9px;line-height:15px;color:#8c8fa3;left:1064.00px;transform:scaleX(0.9544);transform-origin:left center;-webkit-text-stroke:0.28px #8c8fa3;">1082</span>
<span class="t" style="top:420.55px;font-size:9.9px;line-height:15px;color:#8c8fa3;left:1261.80px;transform:scaleX(0.9959);transform-origin:left center;-webkit-text-stroke:0.28px #8c8fa3;">28 Nov 25 13:43</span>
<span class="t" style="top:420.55px;font-size:9.9px;line-height:15px;color:#8c8fa3;left:1760.86px;transform:scaleX(1.0287);transform-origin:left center;-webkit-text-stroke:0.28px #8c8fa3;">1,000.00</span>
<div class="b" style="left:1422px;top:420px;width:62px;height:18px;background:#22b24c;border-radius:3px;"></div>
<span class="t" style="top:422.60px;font-size:8.0px;line-height:12px;color:#ffffff;left:1444.50px;transform:scaleX(1.0617);transform-origin:left center;-webkit-text-stroke:0.3px #fff;">Paid</span>
<svg class="i" style="left:1834.30px;top:421.70px;fill:#22b24c;" width="13.2" height="13.2" viewBox="0 0 24 24"><path d="M12,9A3,3 0 0,1 15,12A3,3 0 0,1 12,15A3,3 0 0,1 9,12A3,3 0 0,1 12,9M12,4.5C17,4.5 21.27,7.61 23,12C21.27,16.39 17,19.5 12,19.5C7,19.5 2.73,16.39 1,12C2.73,7.61 7,4.5 12,4.5M3.18,12C4.83,15.36 8.24,17.5 12,17.5C15.76,17.5 19.17,15.36 20.82,12C19.17,8.64 15.76,6.5 12,6.5C8.24,6.5 4.83,8.64 3.18,12Z"/></svg>
<span class="t" style="top:456.74px;font-size:9.9px;line-height:15px;color:#8c8fa3;left:1064.00px;transform:scaleX(0.8536);transform-origin:left center;-webkit-text-stroke:0.28px #8c8fa3;">1081</span>
<span class="t" style="top:456.74px;font-size:9.9px;line-height:15px;color:#8c8fa3;left:1261.80px;transform:scaleX(0.9946);transform-origin:left center;-webkit-text-stroke:0.28px #8c8fa3;">28 Nov 25 13:42</span>
<span class="t" style="top:456.74px;font-size:9.9px;line-height:15px;color:#8c8fa3;left:1782.38px;transform:scaleX(0.9406);transform-origin:left center;-webkit-text-stroke:0.28px #8c8fa3;">1.00</span>
<div class="b" style="left:1422px;top:456px;width:62px;height:18px;background:#22b24c;border-radius:3px;"></div>
<span class="t" style="top:458.60px;font-size:8.0px;line-height:12px;color:#ffffff;left:1444.50px;transform:scaleX(1.0617);transform-origin:left center;-webkit-text-stroke:0.3px #fff;">Paid</span>
<svg class="i" style="left:1834.30px;top:458.70px;fill:#22b24c;" width="13.2" height="13.2" viewBox="0 0 24 24"><path d="M12,9A3,3 0 0,1 15,12A3,3 0 0,1 12,15A3,3 0 0,1 9,12A3,3 0 0,1 12,9M12,4.5C17,4.5 21.27,7.61 23,12C21.27,16.39 17,19.5 12,19.5C7,19.5 2.73,16.39 1,12C2.73,7.61 7,4.5 12,4.5M3.18,12C4.83,15.36 8.24,17.5 12,17.5C15.76,17.5 19.17,15.36 20.82,12C19.17,8.64 15.76,6.5 12,6.5C8.24,6.5 4.83,8.64 3.18,12Z"/></svg>
<span class="t" style="top:492.93px;font-size:9.9px;line-height:15px;color:#8c8fa3;left:1064.00px;transform:scaleX(0.9850);transform-origin:left center;-webkit-text-stroke:0.28px #8c8fa3;">1080</span>
<span class="t" style="top:492.93px;font-size:9.9px;line-height:15px;color:#8c8fa3;left:1261.80px;transform:scaleX(0.9640);transform-origin:left center;-webkit-text-stroke:0.28px #8c8fa3;">28 Nov 25 13:41</span>
<span class="t" style="top:492.93px;font-size:9.9px;line-height:15px;color:#8c8fa3;left:1776.68px;transform:scaleX(0.9614);transform-origin:left center;-webkit-text-stroke:0.28px #8c8fa3;">12.00</span>
<div class="b" style="left:1422px;top:493px;width:62px;height:18px;background:#16c5c8;border-radius:3px;"></div>
<span class="t" style="top:495.60px;font-size:8.0px;line-height:12px;color:#488896;left:1432.00px;transform:scaleX(1.1109);transform-origin:left center;">In process</span>
<svg class="i" style="left:1834.30px;top:494.70px;fill:#22b24c;" width="13.2" height="13.2" viewBox="0 0 24 24"><path d="M12,9A3,3 0 0,1 15,12A3,3 0 0,1 12,15A3,3 0 0,1 9,12A3,3 0 0,1 12,9M12,4.5C17,4.5 21.27,7.61 23,12C21.27,16.39 17,19.5 12,19.5C7,19.5 2.73,16.39 1,12C2.73,7.61 7,4.5 12,4.5M3.18,12C4.83,15.36 8.24,17.5 12,17.5C15.76,17.5 19.17,15.36 20.82,12C19.17,8.64 15.76,6.5 12,6.5C8.24,6.5 4.83,8.64 3.18,12Z"/></svg>
<span class="t" style="top:529.12px;font-size:9.9px;line-height:15px;color:#8c8fa3;left:1064.00px;transform:scaleX(0.9281);transform-origin:left center;-webkit-text-stroke:0.28px #8c8fa3;">1079</span>
<span class="t" style="top:529.12px;font-size:9.9px;line-height:15px;color:#8c8fa3;left:1261.80px;transform:scaleX(0.9932);transform-origin:left center;-webkit-text-stroke:0.28px #8c8fa3;">28 Nov 25 13:38</span>
<span class="t" style="top:529.12px;font-size:9.9px;line-height:15px;color:#8c8fa3;left:1776.01px;transform:scaleX(0.9886);transform-origin:left center;-webkit-text-stroke:0.28px #8c8fa3;">10.00</span>
<div class="b" style="left:1422px;top:529px;width:62px;height:18px;background:#16c5c8;border-radius:3px;"></div>
<span class="t" style="top:531.60px;font-size:8.0px;line-height:12px;color:#488896;left:1432.00px;transform:scaleX(1.1109);transform-origin:left center;">In process</span>
<svg class="i" style="left:1834.30px;top:530.70px;fill:#22b24c;" width="13.2" height="13.2" viewBox="0 0 24 24"><path d="M12,9A3,3 0 0,1 15,12A3,3 0 0,1 12,15A3,3 0 0,1 9,12A3,3 0 0,1 12,9M12,4.5C17,4.5 21.27,7.61 23,12C21.27,16.39 17,19.5 12,19.5C7,19.5 2.73,16.39 1,12C2.73,7.61 7,4.5 12,4.5M3.18,12C4.83,15.36 8.24,17.5 12,17.5C15.76,17.5 19.17,15.36 20.82,12C19.17,8.64 15.76,6.5 12,6.5C8.24,6.5 4.83,8.64 3.18,12Z"/></svg>
<span class="t" style="top:565.31px;font-size:9.9px;line-height:15px;color:#8c8fa3;left:1064.00px;transform:scaleX(0.9281);transform-origin:left center;-webkit-text-stroke:0.28px #8c8fa3;">1078</span>
<span class="t" style="top:565.31px;font-size:9.9px;line-height:15px;color:#8c8fa3;left:1261.80px;transform:scaleX(0.9494);transform-origin:left center;-webkit-text-stroke:0.28px #8c8fa3;">28 Nov 25 13:17</span>
<span class="t" style="top:565.31px;font-size:9.9px;line-height:15px;color:#8c8fa3;left:1776.01px;transform:scaleX(0.9886);transform-origin:left center;-webkit-text-stroke:0.28px #8c8fa3;">10.00</span>
<div class="b" style="left:1422px;top:565px;width:62px;height:18px;background:#16c5c8;border-radius:3px;"></div>
<span class="t" style="top:567.60px;font-size:8.0px;line-height:12px;color:#488896;left:1432.00px;transform:scaleX(1.1109);transform-origin:left center;">In process</span>
<svg class="i" style="left:1834.30px;top:566.70px;fill:#22b24c;" width="13.2" height="13.2" viewBox="0 0 24 24"><path d="M12,9A3,3 0 0,1 15,12A3,3 0 0,1 12,15A3,3 0 0,1 9,12A3,3 0 0,1 12,9M12,4.5C17,4.5 21.27,7.61 23,12C21.27,16.39 17,19.5 12,19.5C7,19.5 2.73,16.39 1,12C2.73,7.61 7,4.5 12,4.5M3.18,12C4.83,15.36 8.24,17.5 12,17.5C15.76,17.5 19.17,15.36 20.82,12C19.17,8.64 15.76,6.5 12,6.5C8.24,6.5 4.83,8.64 3.18,12Z"/></svg>
<span class="t" style="top:601.50px;font-size:9.9px;line-height:15px;color:#8c8fa3;left:1064.00px;transform:scaleX(0.8887);transform-origin:left center;-webkit-text-stroke:0.28px #8c8fa3;">1077</span>
<span class="t" style="top:601.50px;font-size:9.9px;line-height:15px;color:#8c8fa3;left:1261.80px;transform:scaleX(0.9893);transform-origin:left center;-webkit-text-stroke:0.28px #8c8fa3;">27 Nov 25 16:03</span>
<span class="t" style="top:601.50px;font-size:9.9px;line-height:15px;color:#8c8fa3;left:1782.38px;transform:scaleX(0.9406);transform-origin:left center;-webkit-text-stroke:0.28px #8c8fa3;">1.00</span>
<div class="b" style="left:1422px;top:601px;width:62px;height:18px;background:#e8453c;border-radius:3px;"></div>
<span class="t" style="top:603.60px;font-size:8.0px;line-height:12px;color:#ffffff;letter-spacing:0.009px;left:1432.50px;transform:scaleX(1.1500);transform-origin:left center;-webkit-text-stroke:0.3px #fff;">Cancelled</span>
<svg class="i" style="left:1834.30px;top:602.70px;fill:#22b24c;" width="13.2" height="13.2" viewBox="0 0 24 24"><path d="M12,9A3,3 0 0,1 15,12A3,3 0 0,1 12,15A3,3 0 0,1 9,12A3,3 0 0,1 12,9M12,4.5C17,4.5 21.27,7.61 23,12C21.27,16.39 17,19.5 12,19.5C7,19.5 2.73,16.39 1,12C2.73,7.61 7,4.5 12,4.5M3.18,12C4.83,15.36 8.24,17.5 12,17.5C15.76,17.5 19.17,15.36 20.82,12C19.17,8.64 15.76,6.5 12,6.5C8.24,6.5 4.83,8.64 3.18,12Z"/></svg>
<span class="t" style="top:637.69px;font-size:9.9px;line-height:15px;color:#8c8fa3;left:1064.00px;transform:scaleX(0.9281);transform-origin:left center;-webkit-text-stroke:0.28px #8c8fa3;">1076</span>
<span class="t" style="top:637.69px;font-size:9.9px;line-height:15px;color:#8c8fa3;left:1261.80px;transform:scaleX(0.9893);transform-origin:left center;-webkit-text-stroke:0.28px #8c8fa3;">27 Nov 25 16:03</span>
<span class="t" style="top:637.69px;font-size:9.9px;line-height:15px;color:#8c8fa3;left:1780.06px;transform:scaleX(1.0608);transform-origin:left center;-webkit-text-stroke:0.28px #8c8fa3;">5.00</span>
<div class="b" style="left:1422px;top:637px;width:62px;height:18px;background:#22b24c;border-radius:3px;"></div>
<span class="t" style="top:639.60px;font-size:8.0px;line-height:12px;color:#ffffff;left:1444.50px;transform:scaleX(1.0617);transform-origin:left center;-webkit-text-stroke:0.3px #fff;">Paid</span>
<svg class="i" style="left:1834.30px;top:638.70px;fill:#22b24c;" width="13.2" height="13.2" viewBox="0 0 24 24"><path d="M12,9A3,3 0 0,1 15,12A3,3 0 0,1 12,15A3,3 0 0,1 9,12A3,3 0 0,1 12,9M12,4.5C17,4.5 21.27,7.61 23,12C21.27,16.39 17,19.5 12,19.5C7,19.5 2.73,16.39 1,12C2.73,7.61 7,4.5 12,4.5M3.18,12C4.83,15.36 8.24,17.5 12,17.5C15.76,17.5 19.17,15.36 20.82,12C19.17,8.64 15.76,6.5 12,6.5C8.24,6.5 4.83,8.64 3.18,12Z"/></svg>
<span class="t" style="top:673.88px;font-size:9.9px;line-height:15px;color:#8c8fa3;left:1064.00px;transform:scaleX(0.9193);transform-origin:left center;-webkit-text-stroke:0.28px #8c8fa3;">1075</span>
<span class="t" style="top:673.88px;font-size:9.9px;line-height:15px;color:#8c8fa3;left:1261.80px;transform:scaleX(0.9879);transform-origin:left center;-webkit-text-stroke:0.28px #8c8fa3;">27 Nov 25 16:02</span>
<span class="t" style="top:673.88px;font-size:9.9px;line-height:15px;color:#8c8fa3;left:1782.38px;transform:scaleX(0.9406);transform-origin:left center;-webkit-text-stroke:0.28px #8c8fa3;">1.00</span>
<div class="b" style="left:1422px;top:674px;width:62px;height:18px;background:#22b24c;border-radius:3px;"></div>
<span class="t" style="top:676.60px;font-size:8.0px;line-height:12px;color:#ffffff;left:1444.50px;transform:scaleX(1.0617);transform-origin:left center;-webkit-text-stroke:0.3px #fff;">Paid</span>
<svg class="i" style="left:1834.30px;top:675.70px;fill:#22b24c;" width="13.2" height="13.2" viewBox="0 0 24 24"><path d="M12,9A3,3 0 0,1 15,12A3,3 0 0,1 12,15A3,3 0 0,1 9,12A3,3 0 0,1 12,9M12,4.5C17,4.5 21.27,7.61 23,12C21.27,16.39 17,19.5 12,19.5C7,19.5 2.73,16.39 1,12C2.73,7.61 7,4.5 12,4.5M3.18,12C4.83,15.36 8.24,17.5 12,17.5C15.76,17.5 19.17,15.36 20.82,12C19.17,8.64 15.76,6.5 12,6.5C8.24,6.5 4.83,8.64 3.18,12Z"/></svg>
<div class="b" style="left:1600.3px;top:738px;width:25.5px;height:28.5px;background:#1d2a43;border:1px solid #313458;border-radius:3px;"></div><span class="t" style="top:745.00px;font-size:11px;line-height:16px;color:#ffffff;left:1609.99px;-webkit-text-stroke:0.3px #fff;">«</span>
<div class="b" style="left:1629.2px;top:738px;width:23.5px;height:28.5px;background:#1d2a43;border:1px solid #313458;border-radius:3px;"></div><span class="t" style="top:745.00px;font-size:11px;line-height:16px;color:#ffffff;left:1639.12px;-webkit-text-stroke:0.3px #fff;">‹</span>
<div class="b" style="left:1679px;top:738px;width:27.8px;height:28.5px;background:#1d2a43;border:1px solid #313458;border-radius:3px;"></div><span class="t" style="top:744.90px;font-size:11.4px;line-height:17px;color:#ffffff;left:1689.73px;-webkit-text-stroke:0.3px #fff;">2</span>
<div class="b" style="left:1706.6px;top:738px;width:27.8px;height:28.5px;background:#1d2a43;border:1px solid #313458;border-radius:3px;"></div><span class="t" style="top:744.90px;font-size:11.4px;line-height:17px;color:#ffffff;left:1717.33px;-webkit-text-stroke:0.3px #fff;">3</span>
<div class="b" style="left:1734.4px;top:738px;width:28px;height:28.5px;background:#1d2a43;border:1px solid #313458;border-radius:3px;"></div><span class="t" style="top:744.90px;font-size:11.4px;line-height:17px;color:#ffffff;left:1745.23px;-webkit-text-stroke:0.3px #fff;">4</span>
<div class="b" style="left:1762.4px;top:738px;width:28px;height:28.5px;background:#1d2a43;border:1px solid #313458;border-radius:3px;"></div><span class="t" style="top:744.90px;font-size:11.4px;line-height:17px;color:#ffffff;left:1773.23px;-webkit-text-stroke:0.3px #fff;">5</span>
<div class="b" style="left:1790.4px;top:738px;width:28.2px;height:28.5px;background:#1d2a43;border:1px solid #313458;border-radius:3px;"></div><span class="t" style="top:744.90px;font-size:11.4px;line-height:17px;color:#ffffff;left:1801.33px;-webkit-text-stroke:0.3px #fff;">6</span>
<div class="b" style="left:1655px;top:738px;width:24px;height:28.5px;background:#00a8ff;border:1px solid #00a8ff;border-radius:3px;"></div><span class="t" style="top:744.90px;font-size:11.4px;line-height:17px;color:#ffffff;left:1663.83px;-webkit-text-stroke:0.3px #fff;">1</span>
<div class="b" style="left:1820.4px;top:738px;width:23.5px;height:28.5px;background:#1d2a43;border:1px solid #313458;border-radius:3px;"></div><span class="t" style="top:745.00px;font-size:11px;line-height:16px;color:#ffffff;left:1830.32px;-webkit-text-stroke:0.3px #fff;">›</span>
<div class="b" style="left:1846.2px;top:738px;width:26.5px;height:28.5px;background:#1d2a43;border:1px solid #313458;border-radius:3px;"></div><span class="t" style="top:745.00px;font-size:11px;line-height:16px;color:#ffffff;left:1856.39px;-webkit-text-stroke:0.3px #fff;">»</span>
<div class="b" style="left:1890px;top:637px;width:34px;height:124px;background:#1f9d57;border:2px solid #ffffff;border-radius:4.5px 0 0 4.5px;"></div>
<span class="t" style="left:1907px;top:699px;font-size:15.8px;line-height:20px;font-weight:700;color:#fff;transform:translate(-50%,-50%) rotate(90deg);">Contact us</span>
</section>
</main>
</body></html>
